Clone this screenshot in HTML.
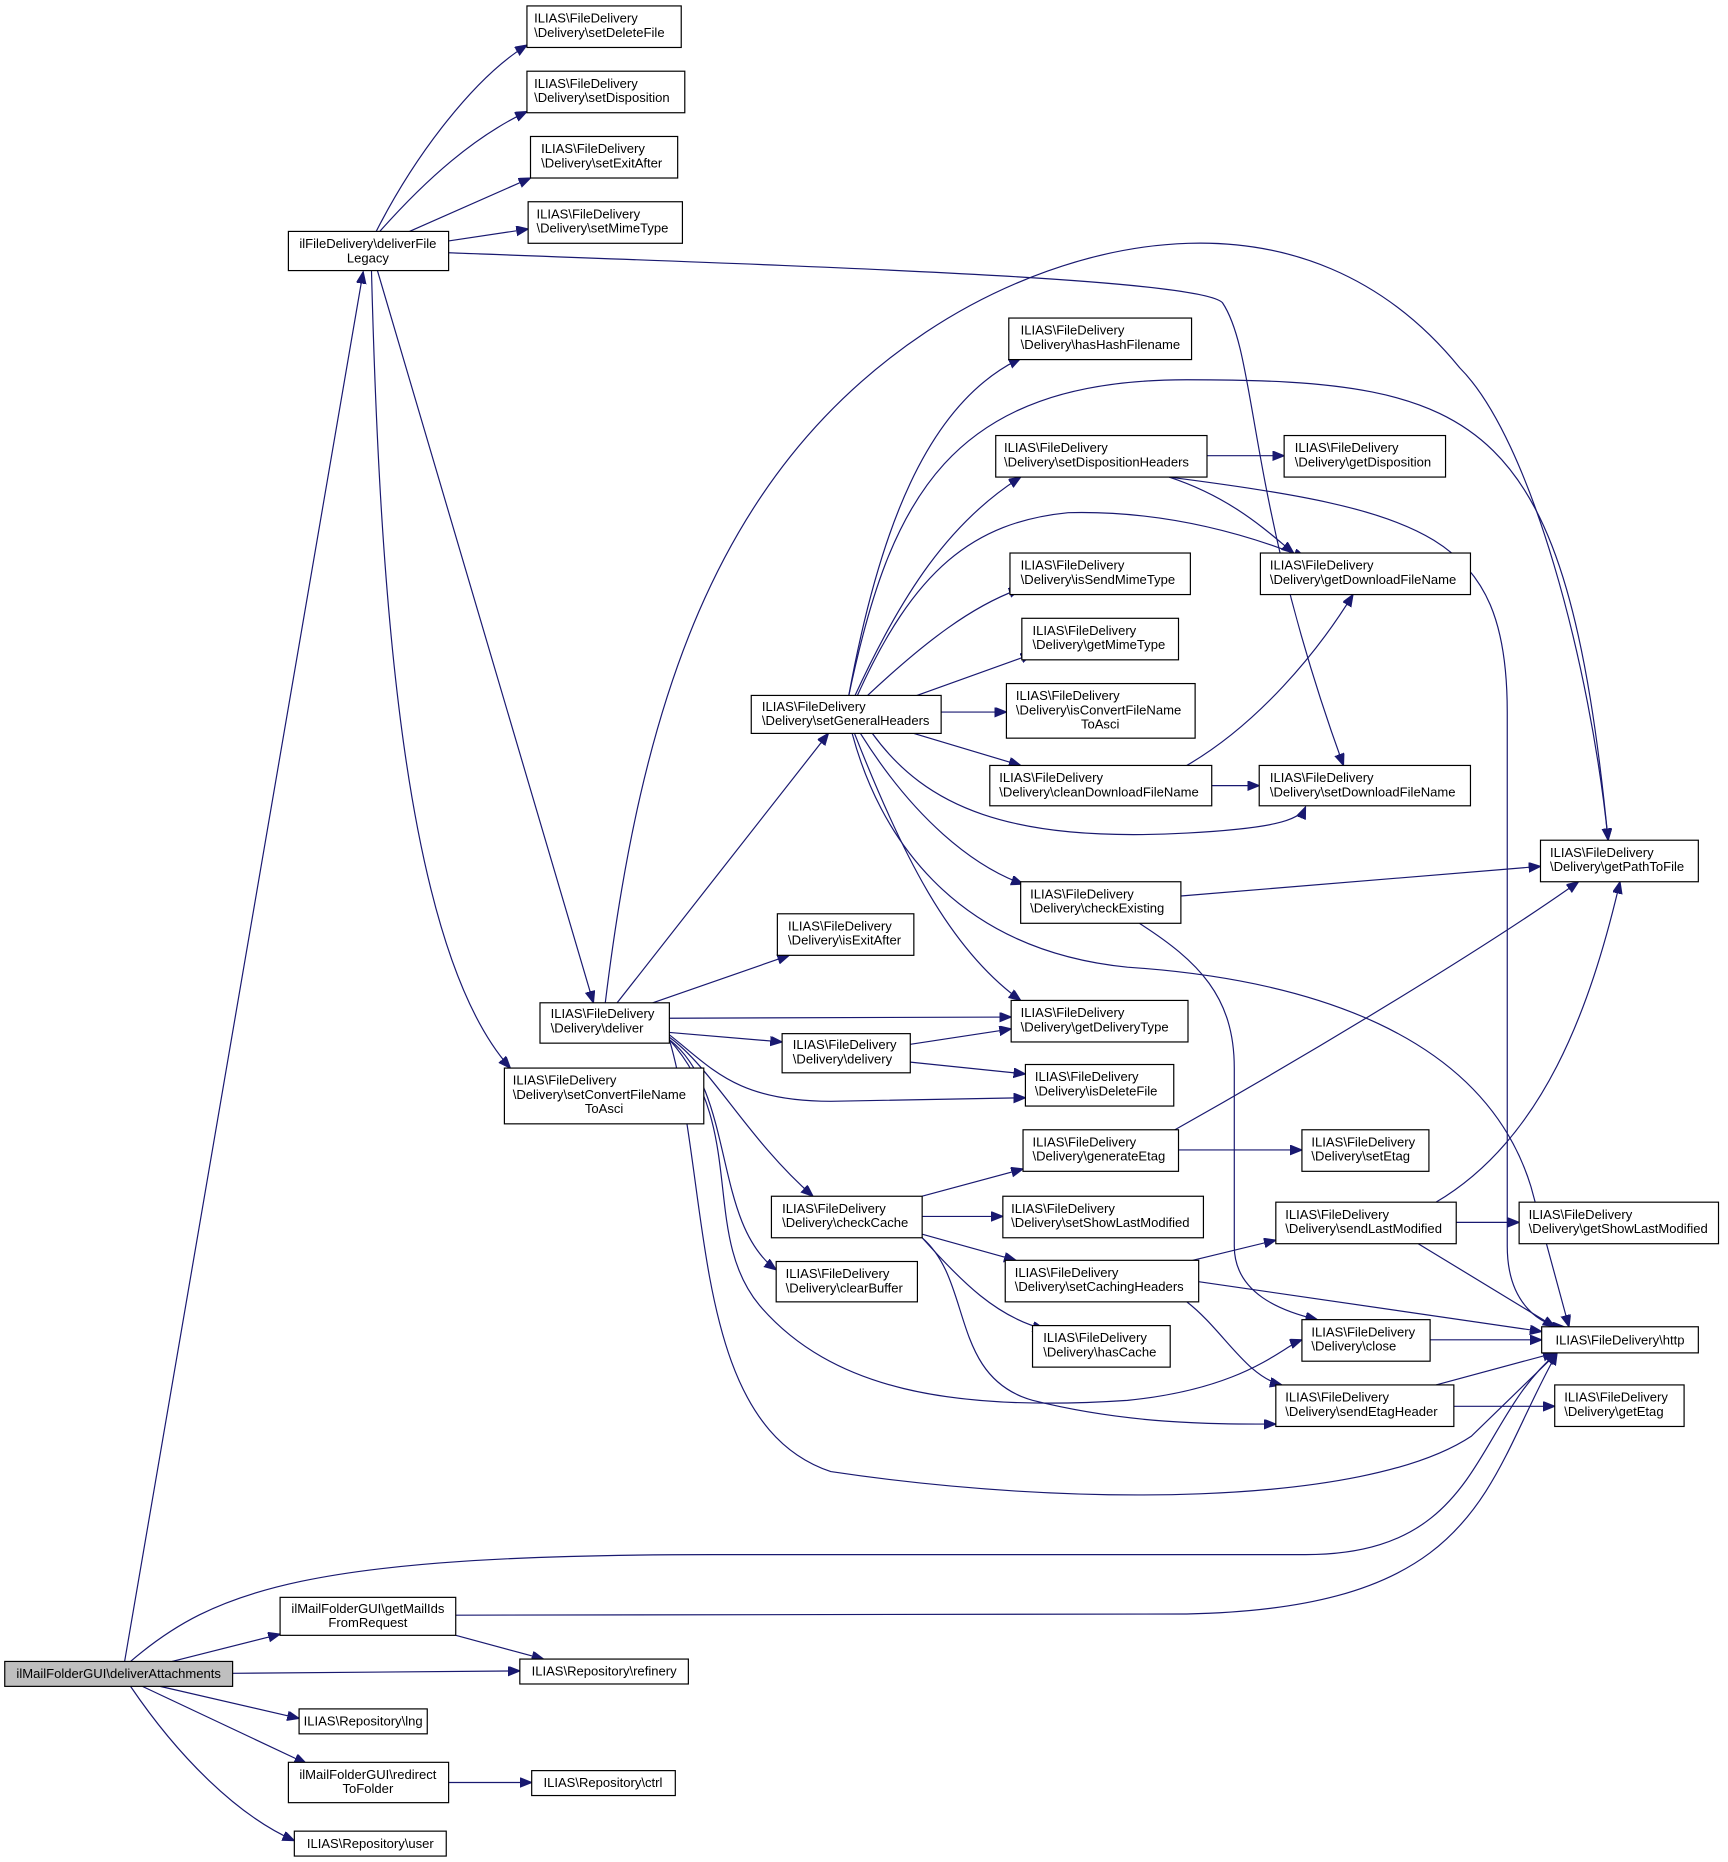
<!DOCTYPE html>
<html><head><meta charset="utf-8"><style>
html,body{margin:0;padding:0;background:#fff;}
svg{display:block;}
text{font-family:"Liberation Sans",Arial,sans-serif;font-size:11px;fill:#000;}
.n{fill:#fff;stroke:#000;stroke-width:1;}
.e{fill:none;stroke:#191970;stroke-width:1;marker-end:url(#a);}
</style></head><body>
<svg width="1728" height="1862" viewBox="0 0 1456 1569" preserveAspectRatio="none" xmlns="http://www.w3.org/2000/svg">
<defs><marker id="a" markerUnits="userSpaceOnUse" markerWidth="12" markerHeight="10" refX="10" refY="4" orient="auto"><path d="M0,0 L10,4 L0,8 z" fill="#191970" stroke="#191970"/></marker></defs>
<g>
<path class="e" d="M105,1400 L306,229"/>
<path class="e" d="M145,1400 L236,1377"/>
<path class="e" d="M196,1410 L438,1408"/>
<path class="e" d="M135,1421 L252,1448"/>
<path class="e" d="M120,1421 L258,1486"/>
<path class="e" d="M110,1421 C150,1480 200,1530 248,1551"/>
<path class="e" d="M110,1400 C180,1340 260,1310 600,1310 L1100,1310 C1250,1310 1240,1200 1312,1140"/>
<path class="e" d="M384,1361 L1000,1360 C1250,1355 1250,1250 1312,1140"/>
<path class="e" d="M384,1378 L458,1398"/>
<path class="e" d="M378,1502 L448,1502"/>
<path class="e" d="M317,195 C350,130 400,65 444,38"/>
<path class="e" d="M320,195 C360,150 400,115 444,94"/>
<path class="e" d="M345,195 L447,150"/>
<path class="e" d="M378,203 L445,193"/>
<path class="e" d="M378,213 C700,225 1010,235 1030,255 C1060,300 1050,420 1132,645"/>
<path class="e" d="M318,228 L500,845"/>
<path class="e" d="M313,228 C320,500 340,800 430,900"/>
<path class="e" d="M520,845 L698,618"/>
<path class="e" d="M510,845 C540,600 600,400 780,280 C900,200 1100,150 1230,310 C1290,370 1340,560 1355,708"/>
<path class="e" d="M550,845 L665,805"/>
<path class="e" d="M564,858 L852,857"/>
<path class="e" d="M564,870 L659,878"/>
<path class="e" d="M564,872 C600,900 620,928 700,928 L864,925"/>
<path class="e" d="M564,874 C600,900 630,960 685,1008"/>
<path class="e" d="M564,876 C620,920 600,1030 654,1070"/>
<path class="e" d="M564,876 C630,950 590,1040 640,1100 C700,1170 800,1190 950,1180 C1050,1170 1080,1135 1097,1129"/>
<path class="e" d="M564,876 C600,1000 580,1200 700,1240 C900,1270 1150,1270 1240,1210 L1312,1140"/>
<path class="e" d="M715,587 C740,450 780,340 860,302"/>
<path class="e" d="M715,587 C750,420 800,320 1000,320 C1250,320 1320,350 1355,708"/>
<path class="e" d="M720,587 C760,500 800,440 860,402"/>
<path class="e" d="M722,587 C770,480 820,440 900,432 C980,430 1050,450 1100,470"/>
<path class="e" d="M730,587 C780,540 820,510 860,496"/>
<path class="e" d="M770,587 L870,551"/>
<path class="e" d="M793,600 L848,600"/>
<path class="e" d="M770,618 L860,645"/>
<path class="e" d="M735,618 C780,680 850,710 1000,702 C1070,698 1095,692 1100,680"/>
<path class="e" d="M725,618 C770,690 820,730 862,745"/>
<path class="e" d="M720,618 C760,720 800,800 860,843"/>
<path class="e" d="M718,618 C740,700 800,800 950,815 C1100,825 1250,870 1290,1000 L1322,1118"/>
<path class="e" d="M1017,384 L1082,384"/>
<path class="e" d="M985,402 C1040,420 1070,450 1090,466"/>
<path class="e" d="M985,402 C1200,430 1270,450 1270,600 L1270,1050 C1270,1100 1300,1118 1318,1118"/>
<path class="e" d="M1021,662 L1061,662"/>
<path class="e" d="M1000,645 C1060,610 1110,550 1140,501"/>
<path class="e" d="M995,755 L1298,730"/>
<path class="e" d="M960,778 C1010,810 1040,840 1040,900 L1040,1050 C1040,1090 1080,1105 1110,1112"/>
<path class="e" d="M767,880 L852,867"/>
<path class="e" d="M767,895 L864,905"/>
<path class="e" d="M777,1008 L862,985"/>
<path class="e" d="M777,1025 L845,1025"/>
<path class="e" d="M777,1040 L856,1062"/>
<path class="e" d="M777,1043 C810,1080 840,1110 880,1120"/>
<path class="e" d="M777,1043 C820,1080 800,1160 870,1180 C950,1200 1020,1200 1075,1200"/>
<path class="e" d="M993,969 L1097,969"/>
<path class="e" d="M990,952 C1100,890 1250,800 1330,743"/>
<path class="e" d="M1005,1062 L1075,1045"/>
<path class="e" d="M1010,1080 L1299,1122"/>
<path class="e" d="M1000,1097 C1030,1120 1050,1160 1080,1167"/>
<path class="e" d="M1227,1030 L1280,1030"/>
<path class="e" d="M1210,1013 C1300,960 1340,850 1365,743"/>
<path class="e" d="M1195,1048 L1310,1118"/>
<path class="e" d="M1205,1129 L1299,1129"/>
<path class="e" d="M1210,1167 L1310,1140"/>
<path class="e" d="M1225,1185 L1310,1185"/>
</g>
<g>
<rect x="4" y="1400" width="192" height="21" fill="#bfbfbf" stroke="#000"/><text x="100" y="1414" text-anchor="middle">ilMailFolderGUI\deliverAttachments</text>
<rect class="n" x="243" y="195" width="135" height="33"/><text x="310" y="209" text-anchor="middle">ilFileDelivery\deliverFile</text><text x="310" y="221" text-anchor="middle">Legacy</text>
<rect class="n" x="444" y="5" width="130" height="35"/><text x="450" y="19">ILIAS\FileDelivery</text><text x="450" y="31">\Delivery\setDeleteFile</text>
<rect class="n" x="444" y="60" width="133" height="35"/><text x="450" y="74">ILIAS\FileDelivery</text><text x="450" y="86">\Delivery\setDisposition</text>
<rect class="n" x="447" y="115" width="124" height="35"/><text x="456" y="129">ILIAS\FileDelivery</text><text x="456" y="141">\Delivery\setExitAfter</text>
<rect class="n" x="445" y="170" width="130" height="35"/><text x="452" y="184">ILIAS\FileDelivery</text><text x="452" y="196">\Delivery\setMimeType</text>
<rect class="n" x="850" y="268" width="154" height="35"/><text x="860" y="282">ILIAS\FileDelivery</text><text x="860" y="294">\Delivery\hasHashFilename</text>
<rect class="n" x="839" y="367" width="178" height="35"/><text x="846" y="381">ILIAS\FileDelivery</text><text x="846" y="393">\Delivery\setDispositionHeaders</text>
<rect class="n" x="1082" y="367" width="136" height="35"/><text x="1091" y="381">ILIAS\FileDelivery</text><text x="1091" y="393">\Delivery\getDisposition</text>
<rect class="n" x="851" y="466" width="152" height="35"/><text x="860" y="480">ILIAS\FileDelivery</text><text x="860" y="492">\Delivery\isSendMimeType</text>
<rect class="n" x="1062" y="466" width="177" height="35"/><text x="1070" y="480">ILIAS\FileDelivery</text><text x="1070" y="492">\Delivery\getDownloadFileName</text>
<rect class="n" x="861" y="521" width="132" height="35"/><text x="870" y="535">ILIAS\FileDelivery</text><text x="870" y="547">\Delivery\getMimeType</text>
<rect class="n" x="848" y="576" width="159" height="46"/><text x="856" y="590">ILIAS\FileDelivery</text><text x="856" y="602">\Delivery\isConvertFileName</text><text x="927" y="614" text-anchor="middle">ToAsci</text>
<rect class="n" x="633" y="586" width="160" height="32"/><text x="642" y="599">ILIAS\FileDelivery</text><text x="642" y="611">\Delivery\setGeneralHeaders</text>
<rect class="n" x="834" y="645" width="187" height="34"/><text x="842" y="659">ILIAS\FileDelivery</text><text x="842" y="671">\Delivery\cleanDownloadFileName</text>
<rect class="n" x="1061" y="645" width="178" height="34"/><text x="1070" y="659">ILIAS\FileDelivery</text><text x="1070" y="671">\Delivery\setDownloadFileName</text>
<rect class="n" x="1298" y="708" width="133" height="35"/><text x="1306" y="722">ILIAS\FileDelivery</text><text x="1306" y="734">\Delivery\getPathToFile</text>
<rect class="n" x="860" y="743" width="135" height="35"/><text x="868" y="757">ILIAS\FileDelivery</text><text x="868" y="769">\Delivery\checkExisting</text>
<rect class="n" x="655" y="770" width="115" height="35"/><text x="664" y="784">ILIAS\FileDelivery</text><text x="664" y="796">\Delivery\isExitAfter</text>
<rect class="n" x="455" y="845" width="109" height="34"/><text x="464" y="858">ILIAS\FileDelivery</text><text x="464" y="870">\Delivery\deliver</text>
<rect class="n" x="852" y="843" width="149" height="35"/><text x="860" y="857">ILIAS\FileDelivery</text><text x="860" y="869">\Delivery\getDeliveryType</text>
<rect class="n" x="659" y="871" width="108" height="33"/><text x="668" y="884">ILIAS\FileDelivery</text><text x="668" y="896">\Delivery\delivery</text>
<rect class="n" x="864" y="897" width="125" height="35"/><text x="872" y="911">ILIAS\FileDelivery</text><text x="872" y="923">\Delivery\isDeleteFile</text>
<rect class="n" x="425" y="900" width="168" height="47"/><text x="432" y="914">ILIAS\FileDelivery</text><text x="432" y="926">\Delivery\setConvertFileName</text><text x="509" y="938" text-anchor="middle">ToAsci</text>
<rect class="n" x="862" y="952" width="131" height="35"/><text x="870" y="966">ILIAS\FileDelivery</text><text x="870" y="978">\Delivery\generateEtag</text>
<rect class="n" x="1097" y="952" width="107" height="35"/><text x="1105" y="966">ILIAS\FileDelivery</text><text x="1105" y="978">\Delivery\setEtag</text>
<rect class="n" x="1075" y="1013" width="152" height="35"/><text x="1083" y="1027">ILIAS\FileDelivery</text><text x="1083" y="1039">\Delivery\sendLastModified</text>
<rect class="n" x="1280" y="1013" width="168" height="35"/><text x="1288" y="1027">ILIAS\FileDelivery</text><text x="1288" y="1039">\Delivery\getShowLastModified</text>
<rect class="n" x="845" y="1008" width="169" height="35"/><text x="852" y="1022">ILIAS\FileDelivery</text><text x="852" y="1034">\Delivery\setShowLastModified</text>
<rect class="n" x="650" y="1008" width="127" height="35"/><text x="659" y="1022">ILIAS\FileDelivery</text><text x="659" y="1034">\Delivery\checkCache</text>
<rect class="n" x="847" y="1062" width="163" height="35"/><text x="855" y="1076">ILIAS\FileDelivery</text><text x="855" y="1088">\Delivery\setCachingHeaders</text>
<rect class="n" x="654" y="1063" width="119" height="34"/><text x="662" y="1077">ILIAS\FileDelivery</text><text x="662" y="1089">\Delivery\clearBuffer</text>
<rect class="n" x="870" y="1117" width="116" height="35"/><text x="879" y="1131">ILIAS\FileDelivery</text><text x="879" y="1143">\Delivery\hasCache</text>
<rect class="n" x="1097" y="1112" width="108" height="35"/><text x="1105" y="1126">ILIAS\FileDelivery</text><text x="1105" y="1138">\Delivery\close</text>
<rect class="n" x="1299" y="1118" width="132" height="22"/><text x="1365" y="1133" text-anchor="middle">ILIAS\FileDelivery\http</text>
<rect class="n" x="1075" y="1167" width="150" height="35"/><text x="1083" y="1181">ILIAS\FileDelivery</text><text x="1083" y="1193">\Delivery\sendEtagHeader</text>
<rect class="n" x="1310" y="1167" width="109" height="35"/><text x="1318" y="1181">ILIAS\FileDelivery</text><text x="1318" y="1193">\Delivery\getEtag</text>
<rect class="n" x="236" y="1346" width="148" height="32"/><text x="310" y="1359" text-anchor="middle">ilMailFolderGUI\getMailIds</text><text x="310" y="1371" text-anchor="middle">FromRequest</text>
<rect class="n" x="438" y="1398" width="142" height="21"/><text x="509" y="1412" text-anchor="middle">ILIAS\Repository\refinery</text>
<rect class="n" x="252" y="1440" width="108" height="21"/><text x="306" y="1454" text-anchor="middle">ILIAS\Repository\lng</text>
<rect class="n" x="243" y="1485" width="135" height="34"/><text x="310" y="1499" text-anchor="middle">ilMailFolderGUI\redirect</text><text x="310" y="1511" text-anchor="middle">ToFolder</text>
<rect class="n" x="448" y="1492" width="121" height="21"/><text x="508" y="1506" text-anchor="middle">ILIAS\Repository\ctrl</text>
<rect class="n" x="248" y="1543" width="128" height="21"/><text x="312" y="1557" text-anchor="middle">ILIAS\Repository\user</text>
</g>
</svg>
</body></html>
